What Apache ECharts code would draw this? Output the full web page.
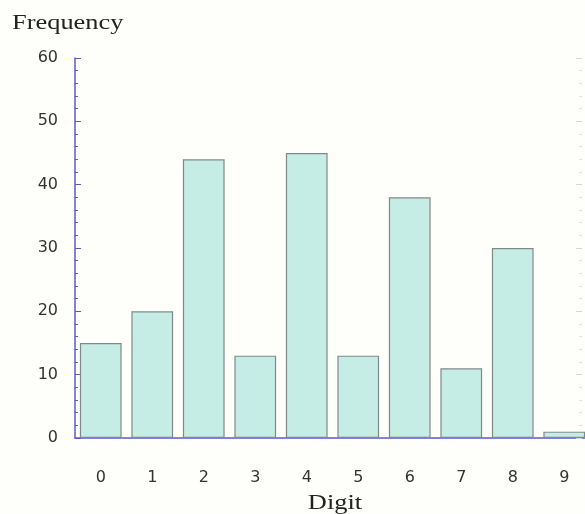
<!DOCTYPE html>
<html>
<head>
<meta charset="utf-8">
<script src="https://cdn.jsdelivr.net/npm/echarts@6/dist/echarts.min.js"></script>
<style>
  html, body { margin: 0; padding: 0; background: #fefefa; }
  #chart { width: 585px; height: 514px; }
</style>
</head>
<body>
<div id="chart"></div>
<script>
// Frequency of digits
const digits = ["0", "1", "2", "3", "4", "5", "6", "7", "8", "9"];
const frequency = [15, 20, 44, 13, 45, 13, 38, 11, 30, 1];

const AXIS_BLUE = "#5a5ad0";
const BAR_FILL = "#c6ece6";
const BAR_EDGE = "#7f8a88";
const SERIF = "'Liberation Serif', 'DejaVu Serif', serif";
const SANS = "'DejaVu Sans', 'Liberation Sans', sans-serif";

const chart = echarts.init(document.getElementById("chart"));

chart.setOption({
  animation: false,
  backgroundColor: "#fefefa",
  grid: { left: 75, top: 58, width: 515, height: 380, outerBoundsMode: "none", containLabel: false },
  // titles are drawn slightly stretched, like the source image
  graphic: [{
    type: "text",
    x: 12,
    y: 12,
    scaleX: 1.2,
    style: { text: "Frequency", font: "22px " + SERIF, fill: "#222" }
  }, {
    type: "text",
    x: 335,
    y: 492,
    scaleX: 1.2,
    style: { text: "Digit", font: "22px " + SERIF, fill: "#222", align: "center" }
  }],
  xAxis: {
    type: "category",
    data: digits,
    axisLine: { lineStyle: { color: AXIS_BLUE, width: 1.5 } },
    axisTick: { show: false },
    axisLabel: { margin: 32, fontFamily: SANS, fontSize: 16, color: "#333" }
  },
  yAxis: [{
    type: "value",
    min: 0,
    max: 60,
    interval: 10,
    axisLine: { show: true, lineStyle: { color: AXIS_BLUE, width: 1.5 } },
    axisTick: { show: true, inside: true, length: 6, lineStyle: { color: AXIS_BLUE } },
    minorTick: { show: true, splitNumber: 5, length: 3, lineStyle: { color: AXIS_BLUE } },
    splitLine: { show: false },
    axisLabel: { margin: 17, fontFamily: SANS, fontSize: 16, color: "#333" }
  }, {
    type: "value",
    position: "right",
    offset: -8,
    min: 0,
    max: 60,
    interval: 10,
    axisLine: { show: false },
    axisTick: { show: true, inside: true, length: 6, lineStyle: { color: "#d8d8d8" } },
    minorTick: { show: true, splitNumber: 5, length: 3, lineStyle: { color: "#e0e0e0" } },
    splitLine: { show: false },
    axisLabel: { show: false }
  }],
  series: [{
    type: "bar",
    data: frequency,
    barCategoryGap: "19%",
    itemStyle: { color: BAR_FILL, borderColor: BAR_EDGE, borderWidth: 1.2 }
  }]
});
</script>
</body>
</html>
